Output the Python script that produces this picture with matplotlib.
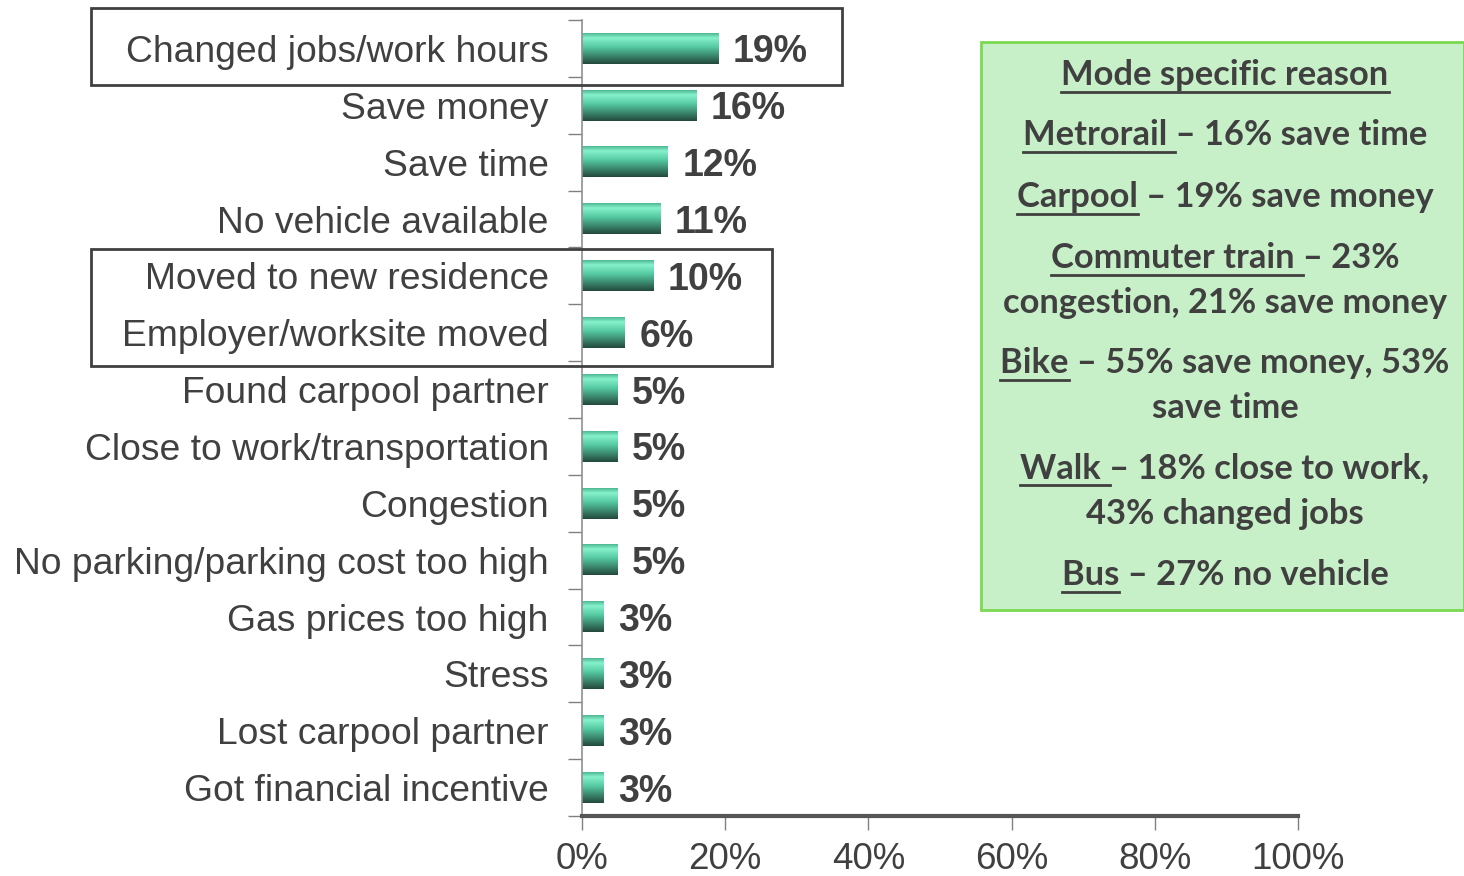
""" Reasons for changing commute mode - horizontal bar chart """

import numpy as np
import matplotlib.pyplot as plt
from matplotlib.colors import LinearSegmentedColormap
from matplotlib.patches import Rectangle

# pylint: disable=invalid-name

reasons = [
    'Changed jobs/work hours', 'Save money', 'Save time', 'No vehicle available',
    'Moved to new residence', 'Employer/worksite moved', 'Found carpool partner',
    'Close to work/transportation', 'Congestion', 'No parking/parking cost too high',
    'Gas prices too high', 'Stress', 'Lost carpool partner', 'Got financial incentive',
]
shares = [19, 16, 12, 11, 10, 6, 5, 5, 5, 5, 3, 3, 3, 3]
x_ticks = [0, 20, 40, 60, 80, 100]

# (underlined part, rest) for every line of the side note
note_lines = [
    ('Mode specific reason', ''),
    ('Metrorail ', '– 16% save time'),
    ('Carpool', ' – 19% save money'),
    ('Commuter train ', '– 23%'),
    ('', 'congestion, 21% save money'),
    ('Bike', ' – 55% save money, 53%'),
    ('', 'save time'),
    ('Walk ', '– 18% close to work,'),
    ('', '43% changed jobs'),
    ('Bus', ' – 27% no vehicle'),
]
note_y = [75, 135, 197, 258, 303, 363, 408, 468, 514, 575]

TXT = '#404040'
W, H = 1464, 876

plt.rcParams['font.family'] = ['Liberation Sans', 'DejaVu Sans']

fig = plt.figure(figsize=(W / 100, H / 100), dpi=100)
ax = fig.add_axes([582 / W, 1 - 816 / H, (1298 - 582) / W, (816 - 20) / H])

bar_cmap = LinearSegmentedColormap.from_list(
    'bar', [(0.0, '#4fb993'), (0.15, '#86f2cc'), (0.45, '#55c9a2'), (1.0, '#234a3c')])
grad = np.linspace(0, 1, 64).reshape(-1, 1)

h = 0.54
for i, v in enumerate(shares):
    ax.imshow(grad, extent=(0, v, i + h / 2, i - h / 2), aspect='auto',
              cmap=bar_cmap, interpolation='bilinear', zorder=2)
    ax.text(v + 2.0, i, f'{v}%', ha='left', va='center_baseline', fontsize=27,
            fontweight='bold', color=TXT)

ax.set_xlim(0, 100)
ax.set_ylim(len(reasons) - 0.5, -0.5)
ax.set_xticks(x_ticks)
ax.set_xticklabels([f'{t}%' for t in x_ticks], fontsize=26.5, color=TXT)
ax.set_yticks(np.arange(len(reasons) + 1) - 0.5)
ax.set_yticklabels([])
ax.set_yticks(np.arange(len(reasons)), minor=True)
ax.set_yticklabels(reasons, minor=True, fontsize=26.8, color=TXT)
ax.tick_params(axis='y', which='major', length=10, color='#808080', width=1)
ax.tick_params(axis='y', which='minor', length=0, pad=24)
ax.tick_params(axis='x', length=10, color='#808080', width=1, pad=9)

for side in ('top', 'right'):
    ax.spines[side].set_visible(False)
ax.spines['left'].set_color('#909090')
ax.spines['left'].set_linewidth(1.2)
ax.spines['bottom'].set_color('#555555')
ax.spines['bottom'].set_linewidth(3)

# Highlight boxes around groups of reasons
for x0, y0, x1, y1 in [(91, 8, 842, 85), (91, 249, 772, 366)]:
    fig.add_artist(Rectangle((x0 / W, 1 - y1 / H), (x1 - x0) / W, (y1 - y0) / H,
                             transform=fig.transFigure, fill=False,
                             edgecolor='#404040', linewidth=2))

# Side note box
fig.add_artist(Rectangle((981 / W, 1 - 610 / H), (W - 981) / W, (610 - 42) / H,
                         transform=fig.transFigure, facecolor='#c8f0c8',
                         edgecolor='#7ad94f', linewidth=2))

note_font = dict(family=['Lato', 'DejaVu Sans'], fontweight='bold', fontsize=24.8,
                 color=TXT)
fig.canvas.draw()
renderer = fig.canvas.get_renderer()
cx = 1225
for (ul, rest), y in zip(note_lines, note_y):
    full = fig.text(cx / W, 1 - y / H, ul + rest, ha='center', va='center',
                    **note_font)
    if not ul:
        continue
    bb = full.get_window_extent(renderer)
    probe = fig.text(0, 0, ul.replace(' ', '\u00a0'), **note_font)
    pw = probe.get_window_extent(renderer).width
    probe.remove()
    uy = bb.y0 - 1
    fig.add_artist(plt.Line2D([bb.x0 / W, (bb.x0 + pw) / W], [uy / H, uy / H],
                              transform=fig.transFigure, color=TXT, linewidth=2))

fig.savefig('out.png', dpi=100)
